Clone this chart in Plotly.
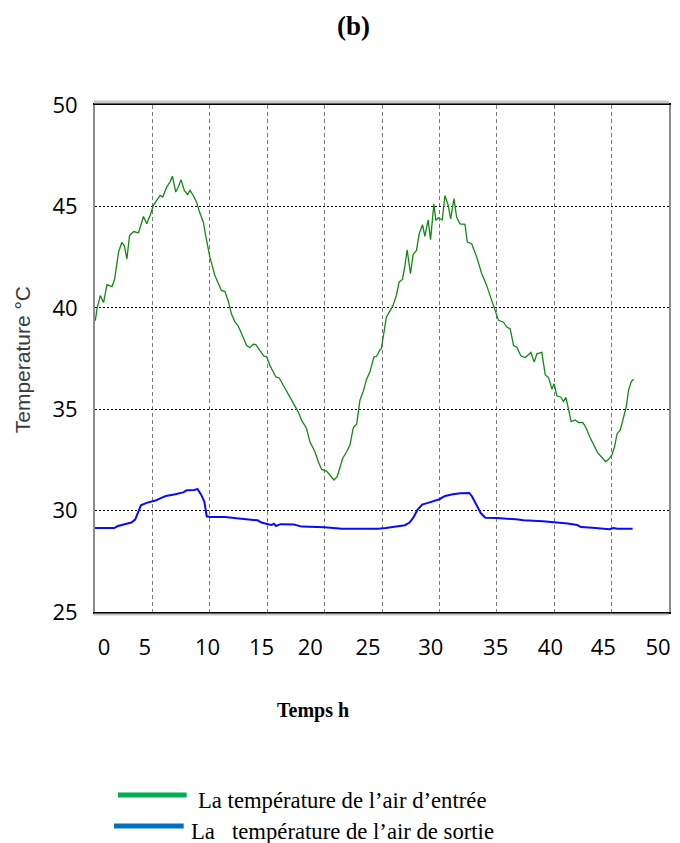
import plotly.graph_objects as go

# Inlet air temperature (green)
t_in = [0.03, 0.17, 0.46, 0.75, 1.04, 1.48, 1.71, 2.05, 2.34, 2.55, 2.78, 3.01, 3.36, 3.79,
        4.22, 4.51, 4.80, 5.09, 5.38, 5.67, 5.90, 6.25, 6.54, 6.74, 7.03, 7.26, 7.49, 7.78,
        8.07, 8.28, 8.56, 8.85, 9.06, 9.44, 9.64, 9.81, 10.01, 10.45, 10.74, 11.02, 11.31,
        11.60, 11.89, 12.18, 12.47, 12.90, 13.20, 13.49, 13.78, 14.01, 14.36, 14.71, 14.94,
        15.23, 15.76, 16.05, 16.40, 16.83, 17.27, 17.70, 17.99, 18.43, 18.72, 19.16, 19.45,
        19.74, 20.17, 20.47, 20.81, 21.10, 21.34, 21.57, 21.92, 22.21, 22.50, 22.79, 23.08,
        23.37, 23.66, 23.95, 24.30, 24.53, 24.83, 24.94, 25.15, 25.38, 25.67, 25.96, 26.25,
        26.49, 26.78, 26.98, 27.19, 27.48, 27.71, 28.00, 28.24, 28.53, 28.73, 29.02, 29.23,
        29.40, 29.52, 29.69, 29.90, 30.25, 30.48, 30.77, 30.98, 31.27, 31.50, 31.79, 32.23,
        32.43, 32.81, 33.25, 33.69, 34.07, 34.42, 34.85, 35.15, 35.58, 35.87, 36.17, 36.46,
        36.75, 37.09, 37.47, 37.97, 38.26, 38.49, 38.92, 39.22, 39.51, 39.80, 40.00, 40.23,
        40.58, 40.81, 41.02, 41.25, 41.48, 41.83, 42.12, 42.50, 42.79, 43.08, 43.43, 43.78,
        44.16, 44.48, 44.74, 45.03, 45.26, 45.47, 45.76, 46.05, 46.28, 46.48, 46.72, 46.92]
T_in = [39.36, 39.93, 40.60, 40.26, 41.14, 41.04, 41.42, 42.74, 43.23, 43.07, 42.41, 43.56,
        43.76, 43.70, 44.50, 44.14, 44.55, 45.05, 45.30, 45.54, 45.46, 45.96, 46.20, 46.49,
        45.71, 45.96, 46.32, 45.79, 45.58, 45.79, 45.54, 45.21, 44.80, 44.22, 43.56, 42.99,
        42.49, 41.58, 41.17, 40.84, 40.81, 40.35, 39.69, 39.32, 39.11, 38.55, 38.15, 38.03,
        38.20, 38.18, 37.87, 37.62, 37.61, 37.16, 36.59, 36.54, 36.18, 35.77, 35.28, 34.87,
        34.46, 34.05, 33.39, 32.90, 32.41, 32.03, 31.95, 31.75, 31.51, 31.67, 32.08, 32.57,
        32.90, 33.23, 34.10, 34.26, 35.44, 35.89, 36.48, 36.84, 37.57, 37.61, 37.93, 37.98,
        38.72, 39.54, 39.82, 40.12, 40.61, 41.27, 41.40, 42.01, 42.86, 41.68, 42.63, 42.83,
        43.65, 44.10, 43.52, 44.34, 43.36, 44.34, 45.13, 44.31, 44.44, 44.34, 45.54, 45.05,
        44.39, 45.38, 44.47, 44.14, 44.11, 43.24, 43.16, 42.50, 41.68, 41.18, 40.61, 39.95,
        39.38, 39.29, 39.05, 38.96, 38.14, 38.06, 37.63, 37.55, 37.80, 37.32, 37.73, 37.80,
        36.69, 36.56, 35.99, 36.25, 35.66, 35.59, 35.38, 35.58, 34.97, 34.39, 34.47, 34.34,
        34.34, 34.06, 33.65, 33.27, 32.86, 32.62, 32.42, 32.53, 32.75, 33.16, 33.78, 33.98,
        34.64, 35.13, 35.95, 36.37, 36.48]

# Outlet air temperature (blue)
t_out = [0.0, 1.67, 2.0, 2.67, 3.17, 3.5, 3.73, 4.0, 4.5, 5.33, 5.83, 6.17, 7.0, 7.67, 8.0,
         8.67, 8.93, 9.27, 9.53, 9.73, 10.0, 11.33, 12.33, 13.33, 14.17, 14.5, 15.0, 15.33,
         15.6, 15.77, 16.17, 17.33, 18.0, 20.0, 21.5, 23.33, 24.67, 25.33, 26.33, 27.0, 27.4,
         27.73, 28.07, 28.5, 29.0, 29.5, 30.0, 30.5, 31.17, 31.83, 32.6, 32.83, 33.27, 33.6,
         34.0, 35.0, 36.67, 37.33, 39.0, 40.33, 41.17, 42.0, 42.33, 43.33, 44.33, 44.83,
         45.17, 45.5, 46.83]
T_out = [29.14, 29.14, 29.24, 29.33, 29.41, 29.56, 29.85, 30.26, 30.38, 30.51, 30.64, 30.72,
         30.81, 30.90, 31.00, 31.02, 31.07, 30.76, 30.43, 29.72, 29.69, 29.69, 29.62, 29.57,
         29.52, 29.41, 29.36, 29.29, 29.34, 29.24, 29.33, 29.31, 29.21, 29.18, 29.10, 29.10,
         29.11, 29.14, 29.21, 29.28, 29.41, 29.65, 30.02, 30.30, 30.38, 30.48, 30.56, 30.72,
         30.81, 30.86, 30.87, 30.71, 30.26, 29.88, 29.65, 29.64, 29.57, 29.52, 29.47, 29.41,
         29.36, 29.29, 29.19, 29.16, 29.13, 29.08, 29.14, 29.10, 29.10]

x_ticks = [0, 5, 10, 15, 20, 25, 30, 35, 40, 45, 50]
x_tick_text = ["0", "5", "10", "15", "20", "25", "30", "35", "40", "45", "50"]
# where the (loosely placed) tick labels sit in the original figure, in hours
x_label_pos = [0.78, 4.34, 9.81, 14.5, 18.75, 23.78, 29.25, 34.9, 39.67, 44.27, 49.05]
y_ticks = [25, 30, 35, 40, 45, 50]

title_text = "<b>(b)</b>"
x_title = "<b>Temps h</b>"
y_title = "Temperature °C"
legend_in = "La température de l’air d’entrée"
legend_out = "La\u00a0\u00a0\u00a0température de l’air de sortie"

fig = go.Figure()
fig.add_trace(go.Scatter(x=t_in, y=T_in, mode="lines", name=legend_in,
                         line=dict(color="#128a12", width=1.3), showlegend=False))
fig.add_trace(go.Scatter(x=t_out, y=T_out, mode="lines", name=legend_out,
                         line=dict(color="#0a0aff", width=2), showlegend=False))

L, R, T, B = 95, 9, 105, 231
W, H = 680, 843
pw, ph = W - L - R, H - T - B

def px(x):
    return (x - L) / pw

def py(y):
    return (H - B - y) / ph

tick_font = dict(family="Open Sans", size=22, color="black")

fig.update_layout(
    width=W, height=H,
    margin=dict(l=L, r=R, t=T, b=B),
    paper_bgcolor="white", plot_bgcolor="white",
    showlegend=False,
    xaxis=dict(range=[0, 50], tickvals=x_ticks, showgrid=True, gridcolor="#7a7a7a",
               griddash="4px,3px", gridwidth=1, showline=True, linecolor="black",
               linewidth=1.5, mirror=True, ticks="", zeroline=False,
               showticklabels=False),
    xaxis2=dict(range=[0, 50], overlaying="x", side="bottom", tickvals=x_label_pos,
                ticktext=x_tick_text, showgrid=False, showline=False, ticks="",
                zeroline=False, tickfont=tick_font, ticklabelstandoff=20,
                ticklabeloverflow="allow"),
    yaxis=dict(range=[25, 50], tickvals=y_ticks, showgrid=True, gridcolor="black",
               griddash="2px,2px", gridwidth=1, showline=True, linecolor="#8c8c8c",
               linewidth=2, mirror=True, ticks="", zeroline=False,
               tickfont=tick_font, ticklabelstandoff=11),
)
# empty trace to bring the label axis into the figure
fig.add_trace(go.Scatter(x=[None], y=[None], xaxis="x2", yaxis="y",
                         showlegend=False, hoverinfo="skip"))

shapes = [
    dict(type="line", xref="paper", yref="paper", x0=-0.002, x1=1.0,
         y0=1 + 3 / ph, y1=1 + 3 / ph, line=dict(color="#c8c8c8", width=3)),
    dict(type="line", xref="paper", yref="paper", x0=-0.002, x1=1.0,
         y0=-2.5 / ph, y1=-2.5 / ph, line=dict(color="#c8c8c8", width=2)),
    dict(type="line", xref="paper", yref="paper", x0=px(118), x1=px(187),
         y0=py(795), y1=py(795), line=dict(color="#00b050", width=5)),
    dict(type="line", xref="paper", yref="paper", x0=px(114), x1=px(184),
         y0=py(826), y1=py(826), line=dict(color="#0070c0", width=5)),
]

annotations = [
    dict(text=title_text, xref="paper", yref="paper", x=px(354), y=py(26),
         xanchor="center", yanchor="middle", showarrow=False,
         font=dict(family="Liberation Serif", size=27, color="black")),
    dict(text=x_title, xref="paper", yref="paper", x=px(314), y=py(710),
         xanchor="center", yanchor="middle", showarrow=False,
         font=dict(family="Liberation Serif", size=20, color="black")),
    dict(text=y_title, xref="paper", yref="paper", x=px(22), y=py(360),
         xanchor="center", yanchor="middle", showarrow=False, textangle=-90,
         font=dict(family="Liberation Sans", size=21, color="#3a3a3a")),
    dict(text=legend_in, xref="paper", yref="paper", x=px(196), y=py(800),
         xanchor="left", yanchor="middle", showarrow=False,
         font=dict(family="Liberation Serif", size=22.7, color="black")),
    dict(text=legend_out, xref="paper", yref="paper", x=px(189), y=py(831),
         xanchor="left", yanchor="middle", showarrow=False,
         font=dict(family="Liberation Serif", size=22.7, color="black")),
]

fig.update_layout(shapes=shapes, annotations=annotations)
fig.write_html("out.html")
